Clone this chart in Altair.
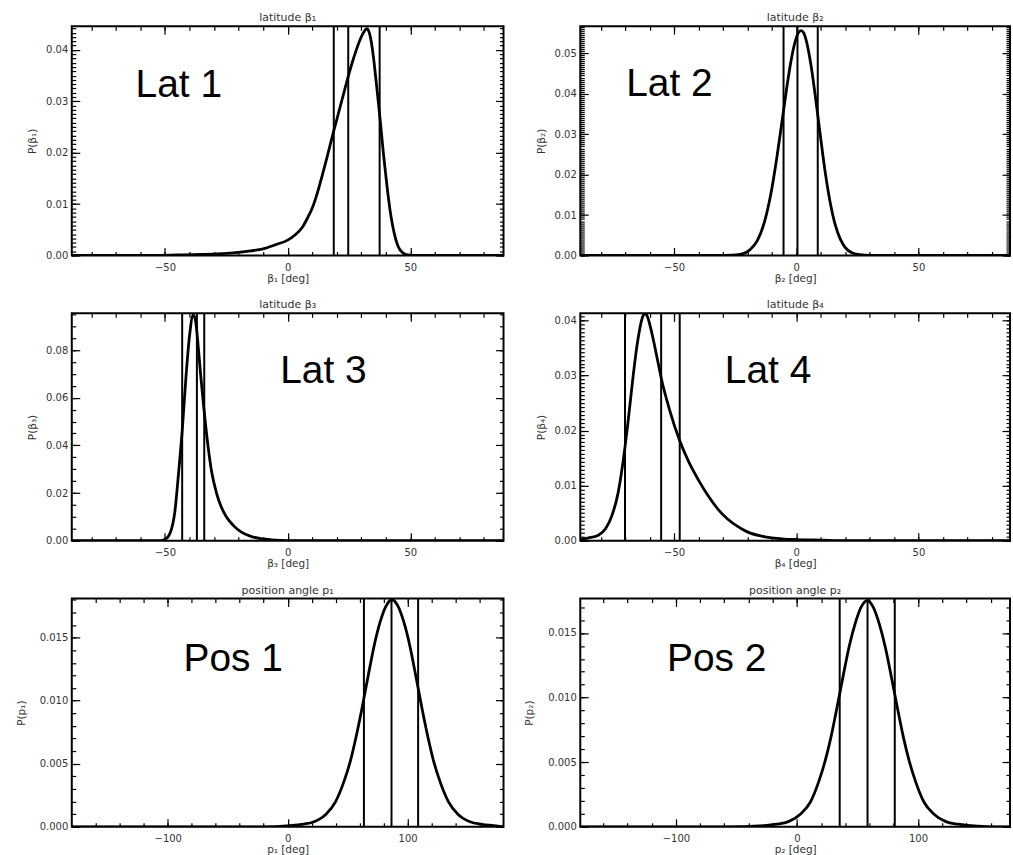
import altair as alt
import pandas as pd
import numpy as np

# ---------------- data ----------------
lat1_x = [-88, -60, -45, -35, -25, -20, -15, -10, -5, 0, 3, 6, 8, 10, 12, 14, 16, 18, 20, 22,
          24, 26, 28, 30, 31.5, 32.3, 33, 34, 35, 36, 37.5, 39, 40.5, 42, 43.5, 45, 47, 49, 52, 88]
lat1_p = [0, 0, 0.0001, 0.0002, 0.0004, 0.0006, 0.0009, 0.0013, 0.0021, 0.0030, 0.0040, 0.0055,
          0.0072, 0.0092, 0.0120, 0.0154, 0.0190, 0.0228, 0.0264, 0.0300, 0.0336, 0.0370, 0.0400,
          0.0425, 0.0438, 0.0441, 0.0437, 0.0418, 0.0385, 0.0342, 0.0274, 0.0200, 0.0135, 0.0080,
          0.0042, 0.0018, 0.0005, 0.0001, 0, 0]
lat1_lines = [18.8, 24.7, 37.5]

lat2_x = [-88, -32, -26, -22, -19, -16, -13, -10, -8, -6, -4, -2, 0, 1, 2, 3, 4, 6, 8, 10,
          12, 14, 16, 18, 20, 23, 26, 30, 88]
lat2_p = [0, 0, 0.0001, 0.0004, 0.0014, 0.0036, 0.0083, 0.0165, 0.0240, 0.0324, 0.0410, 0.0486,
          0.0538, 0.0552, 0.0556, 0.0551, 0.0534, 0.0472, 0.0385, 0.0290, 0.0200, 0.0128, 0.0075,
          0.0041, 0.0020, 0.0006, 0.0002, 0, 0]
lat2_lines = [-5.2, 0.5, 8.8]

lat3_x = [-88, -52, -50, -48, -46, -44.5, -43, -41.5, -40, -38.5, -37.5, -36.5, -35.5, -34,
          -32.5, -31, -29, -27, -25, -22, -19, -15, -10, -5, 0, 88]
lat3_p = [0, 0, 0.0005, 0.0030, 0.0120, 0.0280, 0.0460, 0.0680, 0.0860, 0.0947, 0.0920, 0.0820,
          0.0700, 0.0540, 0.0400, 0.0290, 0.0200, 0.0140, 0.0100, 0.0062, 0.0037, 0.0018, 0.0007,
          0.0002, 0, 0]
lat3_lines = [-43.0, -37.0, -34.0]

lat4_x = [-89, -85, -81, -78, -75.5, -73, -71, -69, -67, -65, -63, -62, -61, -59, -57, -55,
          -52, -48, -44, -40, -36, -32, -28, -24, -20, -15, -10, -5, 0, 10, 20, 88]
lat4_p = [0.0002, 0.0005, 0.0010, 0.0022, 0.0045, 0.0085, 0.0140, 0.0210, 0.0290, 0.0360,
          0.0405, 0.0413, 0.0408, 0.0375, 0.0333, 0.0290, 0.0240, 0.0185, 0.0143, 0.0110,
          0.0081, 0.0057, 0.0039, 0.0026, 0.0016, 0.0009, 0.0005, 0.0003, 0.0002, 0.0001, 0, 0]
lat4_lines = [-70.1, -55.3, -47.7]

pos1_x = [-180, -20, 2, 12, 22, 32, 40, 47, 52, 57, 62, 67, 72, 77, 82, 87, 92, 97, 102, 107,
          112, 117, 122, 127, 134, 142, 152, 162, 172, 180]
pos1_p = [0, 0, 0.0001, 0.0002, 0.0004, 0.0010, 0.0020, 0.0036, 0.0051, 0.0071, 0.0094, 0.0119,
          0.0143, 0.0162, 0.0175, 0.0180, 0.0175, 0.0162, 0.0143, 0.0119, 0.0094, 0.0071, 0.0051,
          0.0036, 0.0020, 0.0010, 0.0004, 0.0002, 0.0001, 0]
pos1_lines = [63.6, 86.6, 108.8]

pos2_x = [-180, -60, -27, -17, -7, 3, 11, 18, 23, 28, 33, 38, 43, 48, 53, 58, 63, 68, 73, 78,
          83, 88, 93, 98, 105, 113, 123, 133, 143, 160, 176]
pos2_p = [0, 0, 0.0001, 0.0002, 0.0004, 0.0010, 0.0019, 0.0035, 0.0050, 0.0069, 0.0092, 0.0116,
          0.0139, 0.0157, 0.0170, 0.0175, 0.0170, 0.0157, 0.0139, 0.0116, 0.0092, 0.0069, 0.0050,
          0.0035, 0.0019, 0.0010, 0.0004, 0.0002, 0.0001, 0, 0]
pos2_lines = [35.3, 58.3, 80.8]

titles = ["latitude β₁", "latitude β₂", "latitude β₃", "latitude β₄",
          "position angle p₁", "position angle p₂"]
x_titles = ["β₁ [deg]", "β₂ [deg]", "β₃ [deg]", "β₄ [deg]", "p₁ [deg]", "p₂ [deg]"]
y_titles = ["P(β₁)", "P(β₂)", "P(β₃)", "P(β₄)", "P(p₁)", "P(p₂)"]
labels = ["Lat 1", "Lat 2", "Lat 3", "Lat 4", "Pos 1", "Pos 2"]

lat_x_major = [-50, 0, 50]
lat_x_minor = list(range(-80, 81, 10))
pos_x_major = [-100, 0, 100]
pos_x_minor = list(range(-160, 161, 20))

FONT = "DejaVu Sans"
AX = dict(domain=False, grid=False, tickColor="black", tickWidth=1.2,
          labelFont=FONT, labelFontSize=10, labelColor="#333",
          titleFont=FONT, titleFontSize=10.5, titleFontWeight="normal", titleColor="#333")


def panel(xv, pv, vlines, xdom, ydom, xmaj, xmin_, ymaj, ymin_, yfmt, title, xtitle, ytitle,
          label, lx, ly, w, h, ytp):
    df = pd.DataFrame({"x": xv, "p": pv})
    xs = alt.Scale(domain=xdom, nice=False, zero=False)
    ys = alt.Scale(domain=ydom, nice=False, zero=False)

    curve = alt.Chart(df).mark_line(color="black", strokeWidth=2.8, interpolate="monotone",
                                    clip=True).encode(
        x=alt.X("x:Q", scale=xs, axis=alt.Axis(orient="bottom", values=xmaj, tickSize=8, offset=-8,
                                               labelPadding=7, format="d", title=xtitle,
                                               titlePadding=1, **AX)),
        y=alt.Y("p:Q", scale=ys, axis=alt.Axis(orient="left", values=ymaj, tickSize=8, offset=-8,
                                               labelPadding=4, format=yfmt, title=ytitle,
                                               titlePadding=ytp, **AX)),
    )

    def ghost(xo, xvals, xsize, yo, yvals, ysize):
        return alt.Chart(df).mark_line(strokeOpacity=0).encode(
            x=alt.X("x:Q", scale=xs, axis=alt.Axis(orient=xo, values=xvals, tickSize=xsize,
                                                   offset=-xsize, labels=False, title=None, **AX)),
            y=alt.Y("p:Q", scale=ys, axis=alt.Axis(orient=yo, values=yvals, tickSize=ysize,
                                                   offset=-ysize, labels=False, title=None, **AX)),
        )

    g1 = ghost("bottom", xmin_, 4, "left", ymin_, 4)
    g2 = ghost("top", xmaj, 8, "right", ymaj, 8)
    g3 = ghost("top", xmin_, 4, "right", ymin_, 4)

    rules = alt.Chart(pd.DataFrame({"v": vlines})).mark_rule(color="black", strokeWidth=2).encode(
        x=alt.X("v:Q", scale=xs, axis=None))

    txt = alt.Chart(pd.DataFrame({"t": [label]})).mark_text(
        font="Liberation Sans", fontSize=39, align="left", baseline="alphabetic", color="black"
    ).encode(text="t:N", x=alt.value(lx), y=alt.value(ly))

    return alt.layer(curve, rules, g1, g2, g3, txt).resolve_axis(
        x="independent", y="independent"
    ).properties(
        width=w, height=h,
        title=alt.TitleParams(title, font=FONT, fontSize=11, fontWeight="normal", color="#333",
                              offset=2),
    )


def ticks(top, step):
    return [round(v, 6) for v in np.arange(0, top + 1e-9, step)]


p1 = panel(lat1_x, lat1_p, lat1_lines, [-88, 88], [0, 0.0446], lat_x_major, lat_x_minor,
           ticks(0.04, 0.01), ticks(0.0446, 0.01 / 12), ".2f", titles[0], x_titles[0], y_titles[0],
           labels[0], 64, 71, 433, 230, 8)
p2 = panel(lat2_x, lat2_p, lat2_lines, [-88.4, 87.5], [0, 0.0567], lat_x_major, lat_x_minor,
           ticks(0.05, 0.01), ticks(0.0567, 0.0005), ".2f", titles[1], x_titles[1], y_titles[1],
           labels[1], 46, 70, 431, 230, 8)
p3 = panel(lat3_x, lat3_p, lat3_lines, [-88, 88], [0, 0.0954], lat_x_major, lat_x_minor,
           ticks(0.08, 0.02), ticks(0.0954, 0.005), ".2f", titles[2], x_titles[2], y_titles[2],
           labels[2], 209, 70, 433, 228, 8)
p4 = panel(lat4_x, lat4_p, lat4_lines, [-88.4, 87.5], [0, 0.0413], lat_x_major, lat_x_minor,
           ticks(0.04, 0.01), ticks(0.0413, 0.01 / 14), ".2f", titles[3], x_titles[3], y_titles[3],
           labels[3], 145, 70, 431, 228, 8)
p5 = panel(pos1_x, pos1_p, pos1_lines, [-180, 180], [0, 0.0181], pos_x_major, pos_x_minor,
           ticks(0.015, 0.005), ticks(0.0181, 0.001), ".3f", titles[4], x_titles[4], y_titles[4],
           labels[4], 112, 73, 433, 229, 13)
p6 = panel(pos2_x, pos2_p, pos2_lines, [-179, 176], [0, 0.01767], pos_x_major, pos_x_minor,
           ticks(0.015, 0.005), ticks(0.01767, 0.001), ".3f", titles[5], x_titles[5], y_titles[5],
           labels[5], 87, 73, 431, 229, 13)

chart = alt.concat(p1, p2, p3, p4, p5, p6, columns=2,
                   spacing={"row": 58, "column": 77}, bounds="flush").properties(
    padding={"left": 15, "top": 10, "right": 0, "bottom": 0}
).configure_view(stroke="black", strokeWidth=2)

chart.save("out.html", embed_options={"renderer": "svg", "actions": False})
